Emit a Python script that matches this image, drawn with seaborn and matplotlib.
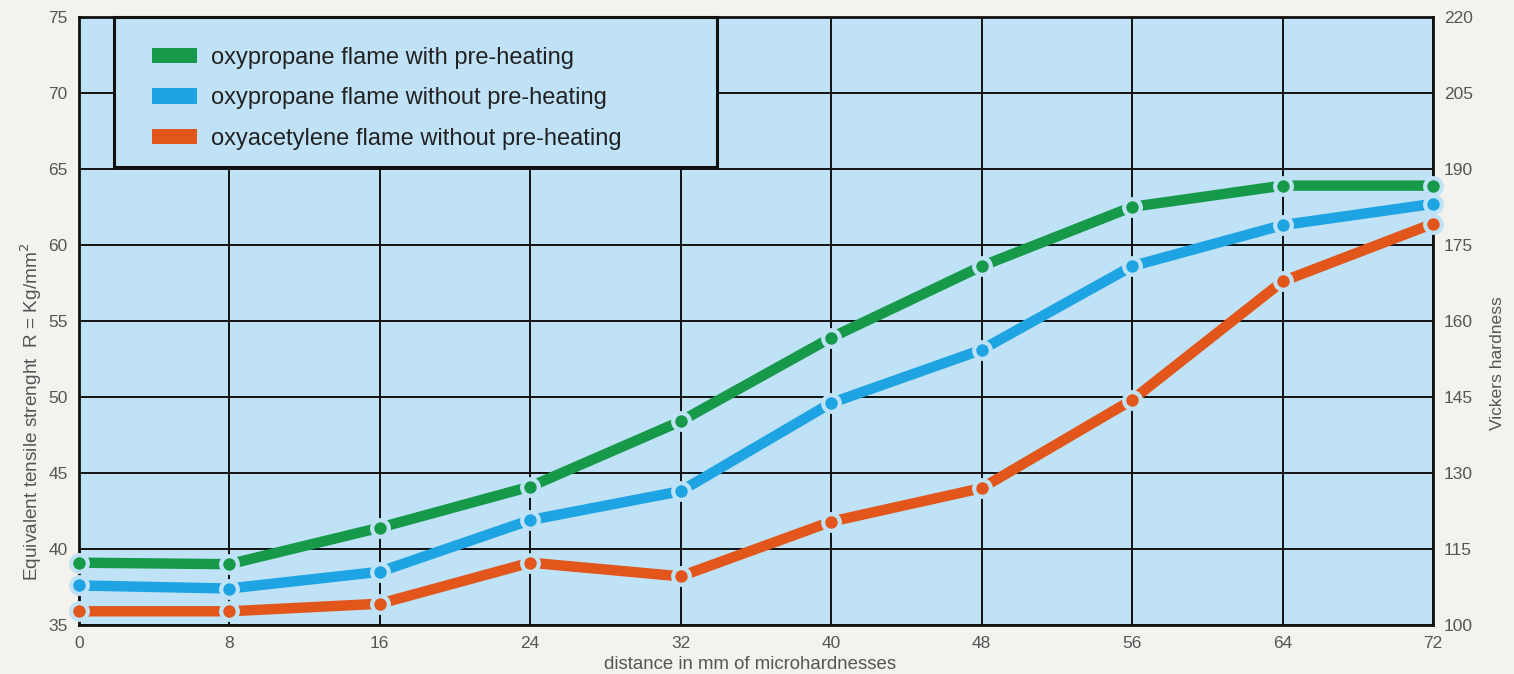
import pandas as pd
import seaborn as sns
import matplotlib.pyplot as plt
from matplotlib.patches import Patch, Rectangle
import matplotlib as mpl

# values
distance = [0, 8, 16, 24, 32, 40, 48, 56, 64, 72]
series_names = [
    'oxypropane flame with pre-heating',
    'oxypropane flame without pre-heating',
    'oxyacetylene flame without pre-heating',
]
green_vals = [39.1, 39.0, 41.4, 44.1, 48.4, 53.9, 58.6, 62.5, 63.9, 63.9]
blue_vals = [37.6, 37.4, 38.5, 41.9, 43.8, 49.6, 53.1, 58.6, 61.3, 62.7]
orange_vals = [35.9, 35.9, 36.4, 39.1, 38.2, 41.8, 44.0, 49.8, 57.6, 61.4]
colors = ['#17994a', '#1ea3e3', '#e2561c']

left_ticks = [35, 40, 45, 50, 55, 60, 65, 70, 75]
right_ticks = [100, 115, 130, 145, 160, 175, 190, 205, 220]

BG_FIG = '#f4f2ec'
BG_AX = '#bfe2f6'
TICK_GREY = '#555555'

sns.set_style('white')
mpl.rcParams['font.family'] = ['Liberation Sans', 'DejaVu Sans']

df = pd.DataFrame({
    'distance': distance * 3,
    'strength': green_vals + blue_vals + orange_vals,
    'series': [n for n in series_names for _ in distance],
})

fig = plt.figure(figsize=(15.14, 6.74), dpi=100, facecolor=BG_FIG)
ax = fig.add_axes([0.052, 0.0727, 0.8945, 0.9023])
ax.set_facecolor(BG_AX)

sns.lineplot(data=df, x='distance', y='strength', hue='series', hue_order=series_names,
             palette=colors, marker='o', markersize=12, linewidth=7.5,
             markeredgecolor=BG_AX, markeredgewidth=3, legend=False, ax=ax,
             zorder=3, clip_on=False)

ax.set_xlim(0, 72)
ax.set_ylim(35, 75)
ax.set_xticks(distance)
ax.set_yticks(left_ticks)
ax.grid(True, color='#111111', linewidth=1.4)
ax.tick_params(length=0, labelsize=12.5, labelcolor=TICK_GREY, pad=8)
for s in ax.spines.values():
    s.set_color('#111111')
    s.set_linewidth(2)
ax.set_xlabel('distance in mm of microhardnesses', fontsize=13.4, color=TICK_GREY)
ax.xaxis.set_label_coords(0.4956, -0.051)
ax.set_ylabel('Equivalent tensile strenght  R = Kg/mm$^2$', fontsize=13.7, color=TICK_GREY)
ax.yaxis.set_label_coords(-0.026, 0.35)

ax2 = ax.twinx()
ax2.set_ylim(100, 220)
ax2.set_yticks(right_ticks)
ax2.tick_params(length=0, labelsize=12.5, labelcolor=TICK_GREY, pad=8)
for s in ax2.spines.values():
    s.set_visible(False)
ax2.set_ylabel('Vickers hardness', fontsize=12.6, color=TICK_GREY)
ax2.yaxis.set_label_coords(1.0423, 0.43)

# legend box
ax2.add_patch(Rectangle((0.0259, 0.7533), 0.4453, 0.2467, transform=ax2.transAxes,
                        facecolor=BG_AX, edgecolor='#111111', linewidth=2.2,
                        zorder=5, clip_on=False))
handles = [Patch(facecolor=c, edgecolor='none') for c in colors]
leg = ax2.legend(handles, series_names, loc='upper left',
                 bbox_to_anchor=((152 - 79) / 1354, (625 - 47) / 608),
                 borderaxespad=0, borderpad=0, fontsize=17, frameon=False,
                 handlelength=1.9, handleheight=0.64, handletextpad=0.63,
                 labelspacing=0.78)
leg.set_zorder(10)
for t in leg.get_texts():
    t.set_color('#222222')

fig.savefig('out.png', dpi=100, facecolor=BG_FIG)
